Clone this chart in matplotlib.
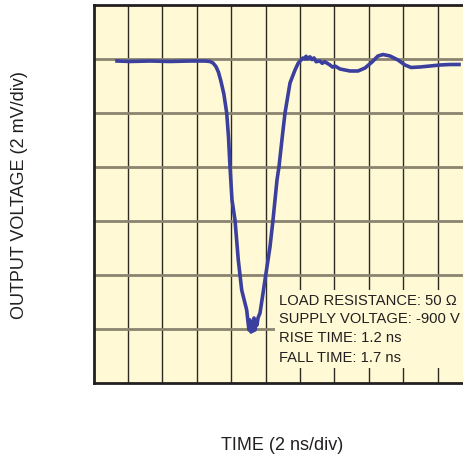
import matplotlib
matplotlib.use("Agg")
import matplotlib.pyplot as plt

# waveform, in screen divisions (2 ns/div horizontally, 2 mV/div vertically)
t_div = [0.683, 1.061, 1.642, 2.224, 2.805, 3.241, 3.387, 3.474, 3.560, 3.630,
         3.700, 3.790, 3.872, 3.925, 3.968, 4.026, 4.113, 4.209, 4.308, 4.453,
         4.491, 4.520, 4.549, 4.578, 4.608, 4.637, 4.666, 4.695, 4.724, 4.753,
         4.782, 4.840, 4.898, 4.985, 5.131, 5.218, 5.276, 5.334, 5.392, 5.500,
         5.567, 5.712, 5.858, 5.953, 6.090, 6.150, 6.177, 6.230, 6.290, 6.352,
         6.410, 6.470, 6.584, 6.650, 6.720, 6.875, 6.950, 7.020, 7.166, 7.456,
         7.689, 7.892, 8.096, 8.270, 8.416, 8.619, 8.852, 9.055, 9.230, 9.491,
         9.782, 10.073, 10.363, 10.625]
v_div = [5.963, 5.954, 5.963, 5.954, 5.963, 5.963, 5.954, 5.926, 5.860, 5.760,
         5.600, 5.350, 5.000, 4.550, 4.006, 3.389, 3.019, 2.278, 1.722, 1.352,
         1.130, 0.981, 1.167, 0.944, 1.093, 0.963, 1.204, 0.981, 1.130, 1.074,
         1.204, 1.296, 1.537, 1.907, 2.524, 3.019, 3.389, 3.759, 4.006, 4.630,
         5.000, 5.556, 5.796, 5.926, 6.019, 6.000, 6.050, 6.000, 6.040, 5.990,
         6.020, 5.950, 5.963, 5.920, 5.950, 5.889, 5.850, 5.870, 5.815, 5.778,
         5.778, 5.833, 5.944, 6.056, 6.083, 6.056, 5.981, 5.889, 5.843, 5.852,
         5.870, 5.889, 5.898, 5.898]

notes = ["LOAD RESISTANCE: 50 \u03a9", "SUPPLY VOLTAGE: -900 V",
         "RISE TIME: 1.2 ns", "FALL TIME: 1.7 ns"]

BG = "#fff9d6"
TRACE = "#3b3f9e"

plt.rcParams['font.family'] = ['Liberation Sans', 'DejaVu Sans']

fig = plt.figure(figsize=(4.63, 4.58), dpi=100)
ax = fig.add_axes([93.5 / 463, 1 - 383 / 458, 378.4 / 463, 378 / 458])
ax.set_facecolor(BG)
ax.set_xlim(0, 11)
ax.set_ylim(0, 7)

for i in range(1, 11):
    ax.axvline(i, color="#2e2b25", lw=1.0, zorder=1)
for j in range(1, 7):
    ax.axhline(j, color="#8a8470", lw=2.0, zorder=1)

ax.plot(t_div, v_div, color=TRACE, lw=2.6, zorder=4, solid_joinstyle="round")

# box behind the notes hides the grid
ax.fill_between([5.276, 11], 0.278, 1.722, color=BG, zorder=2, lw=0)
note_y = [1.52, 1.18, 0.83, 0.47]
for s, y in zip(notes, note_y):
    ax.text(5.38, y, s, fontsize=10.6, color="#231f20", va="center", ha="left", zorder=3)

for side in ["left", "top", "bottom", "right"]:
    ax.spines[side].set_linewidth(2.0)
    ax.spines[side].set_color("#231f20")
ax.set_xticks([])
ax.set_yticks([])

fig.text(20 / 463, 1 - 195 / 458, "OUTPUT VOLTAGE (2 mV/div)", rotation=90,
         fontsize=13, color="#231f20", ha="center", va="center")
fig.text(282 / 463, 1 - 445 / 458, "TIME (2 ns/div)", fontsize=13,
         color="#231f20", ha="center", va="center")

fig.savefig("out.png", dpi=100)
